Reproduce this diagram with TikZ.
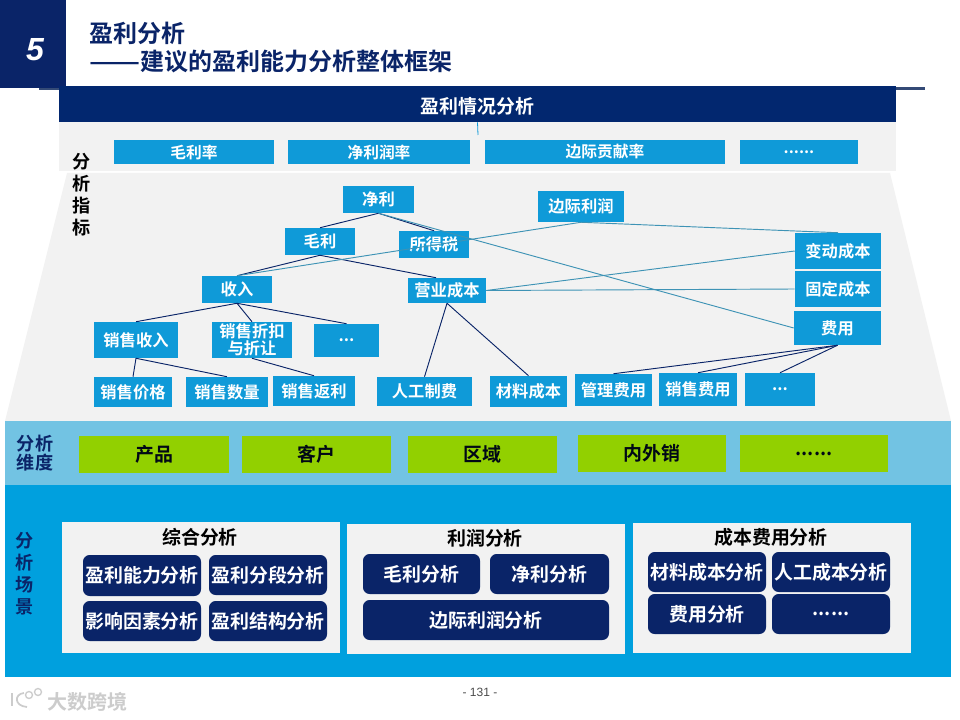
\documentclass[tikz,border=0pt]{standalone}
\usepackage{fontspec}
\setmainfont{Noto Sans CJK SC}[BoldFont={Noto Sans CJK SC Bold}]
\setsansfont{Liberation Sans}
\definecolor{navy}{HTML}{02276F}
\definecolor{dnavy}{HTML}{0A2468}
\definecolor{cyanb}{HTML}{0F9AD8}
\definecolor{band}{HTML}{72C3E3}
\definecolor{deep}{HTML}{00A0DE}
\definecolor{grn}{HTML}{92D000}
\definecolor{pale}{HTML}{F2F2F2}
\definecolor{tealln}{HTML}{3E93B5}
\tikzset{
  x=0.75pt,y=-0.75pt,
  kpi/.style={fill=cyanb,text=white,font=\fontsize{11.8}{13}\selectfont\bfseries},
  mbox/.style={fill=cyanb,text=white,font=\fontsize{12.2}{12.5}\selectfont\bfseries,align=center},
  gbox/.style={fill=grn,text=black!80!navy,font=\fontsize{14.2}{15}\selectfont\bfseries},
  scen/.style={fill=dnavy,rounded corners=5pt,text=white,font=\fontsize{14.2}{15}\selectfont\bfseries},
  panel/.style={fill=pale,draw=none},
  ptitle/.style={font=\fontsize{14.2}{15}\selectfont\bfseries,text=black,inner sep=0pt},
  side/.style={font=\fontsize{13.6}{15.5}\selectfont\bfseries,align=center,inner sep=0pt},
  dk/.style={draw=dnavy,line width=0.7pt},
  tl/.style={draw=tealln,line width=0.7pt},
  ttl/.style={anchor=west,text=dnavy,font=\fontsize{18}{20}\selectfont\bfseries,inner sep=0pt},
  logo/.style={draw=black!20,line width=1.3pt},
}
\newcommand{\pbx}[7]{%
  \pgfmathsetmacro{\mycx}{(#2+#4)/2}\pgfmathsetmacro{\mycy}{(#3+#5)/2}%
  \pgfmathsetmacro{\mywd}{(#4-#2)*0.75}\pgfmathsetmacro{\myht}{(#5-#3)*0.75}%
  \node[#6,inner sep=0pt,minimum width=\mywd pt,minimum height=\myht pt,anchor=center] (#1) at (\mycx,\mycy) {#7};}
\begin{document}
\begin{tikzpicture}
\useasboundingbox (0,0) rectangle (960,720);
\fill[white] (0,0) rectangle (960,720);
% header
\fill[navy!60!gray] (39,87) rectangle (925,90);
\fill[dnavy] (0,0) rectangle (66,88);
\node[text=white,font=\sffamily\bfseries\itshape\fontsize{24}{26}\selectfont] (num) at (35,50) {5};
\node[ttl] (t1) at (89,33) {盈利分析};
\node[ttl] (t2) at (89,62) {\scalebox{1.25}[1]{——}建议的盈利能力分析整体框架};
% backgrounds
\fill[pale] (59,122) rectangle (896,171);
\fill[pale] (67,173) -- (890,173) -- (951,421) -- (5,421) -- cycle;
\fill[band] (5,421) rectangle (951,485);
\fill[deep] (5,485) rectangle (951,677);
\pbx{bar}{59}{86}{896}{122}{fill=navy,text=white,font=\fontsize{14.2}{16}\selectfont\bfseries}{\raisebox{-7.5pt}[0pt][0pt]{盈利情况分析}}
\coordinate (tick) at (478,135);
\draw[cyanb,line width=0.6pt] (bar.south) -- (tick);
% KPI
\pbx{k1}{114}{140}{274}{164}{kpi}{毛利率}
\pbx{k2}{288}{140}{470}{164}{kpi}{净利润率}
\pbx{k3}{485}{140}{725}{164}{kpi}{边际贡献率}
\pbx{k4}{740}{140}{858}{164}{kpi}{......}
\node[side] (s1) at (82,195) {分\\[1pt]析\\[1pt]指\\[1pt]标};
% tree
\pbx{jl}{343}{186}{414}{213}{mbox}{净利}
\pbx{ml}{285}{228}{355}{255}{mbox}{毛利}
\pbx{sds}{399}{231}{469}{258}{mbox}{所得税}
\pbx{bj}{538}{191}{624}{222}{mbox}{边际利润}
\pbx{bd}{795}{233}{881}{269}{mbox}{变动成本}
\pbx{gd}{795}{271}{881}{307}{mbox}{固定成本}
\pbx{fy}{794}{311}{881}{345}{mbox}{费用}
\pbx{sr}{202}{276}{272}{303}{mbox}{收入}
\pbx{yy}{408}{278}{486}{303}{mbox}{营业成本}
\pbx{xs}{94}{322}{178}{358}{mbox}{销售收入}
\pbx{zk}{212}{322}{292}{358}{mbox}{销售折扣\\与折让}
\pbx{dd}{314}{324}{379}{357}{mbox}{...}
\pbx{jg}{94}{377}{172}{407}{mbox}{销售价格}
\pbx{sl}{186}{377}{268}{407}{mbox}{销售数量}
\pbx{fl}{273}{376}{355}{406}{mbox}{销售返利}
\pbx{rg}{377}{377}{472}{406}{mbox}{人工制费}
\pbx{cl}{490}{376}{567}{407}{mbox}{材料成本}
\pbx{gl}{575}{374}{652}{406}{mbox}{管理费用}
\pbx{xf}{659}{373}{737}{406}{mbox}{销售费用}
\pbx{de}{745}{373}{815}{406}{mbox}{...}
% connectors
\draw[dk] (jl.south) -- (ml.north);
\draw[dk] (jl.south) -- (sds.north);
\draw[tl] (jl.south) -- (fy.west);
\draw[dk] (ml.south) -- (sr.north);
\draw[dk] (ml.south) -- ([xshift=-8.25pt]yy.north);
\draw[tl] (bj.south) -- (sr.north);
\draw[tl] (bj.south) -- (bd.north);
\draw[tl] (yy.east) -- (bd.west);
\draw[tl] (yy.east) -- (gd.west);
\draw[dk] (sr.south) -- (xs.north);
\draw[dk] (sr.south) -- (zk.north);
\draw[dk] (sr.south) -- (dd.north);
\draw[dk] (xs.south) -- (jg.north);
\draw[dk] (xs.south) -- (sl.north);
\draw[dk] (zk.south) -- (fl.north);
\draw[dk] (yy.south) -- (rg.north);
\draw[dk] (yy.south) -- (cl.north);
\draw[dk] (fy.south) -- (gl.north);
\draw[dk] (fy.south) -- (xf.north);
\draw[dk] (fy.south) -- (de.north);
% dims
\node[side,text=dnavy] (s2) at (35,453) {分析\\[-1pt]维度};
\pbx{g1}{79}{436}{229}{473}{gbox}{产品}
\pbx{g2}{242}{436}{391}{473}{gbox}{客户}
\pbx{g3}{408}{436}{557}{473}{gbox}{区域}
\pbx{g4}{578}{435}{726}{472}{gbox}{内外销}
\pbx{g5}{740}{435}{888}{472}{gbox}{......}
% scenes
\node[side,text=dnavy] (s3) at (25,574) {分\\[1pt]析\\[1pt]场\\[1pt]景};
\pbx{p1}{62}{522}{340}{653}{panel}{}
\pbx{p2}{347}{524}{625}{654}{panel}{}
\pbx{p3}{633}{523}{911}{653}{panel}{}
\node[ptitle] (pt1) at (200,537) {综合分析};
\node[ptitle] (pt2) at (485,538) {利润分析};
\node[ptitle] (pt3) at (771,537) {成本费用分析};
\pbx{a1}{83}{555}{201}{596}{scen}{盈利能力分析}
\pbx{a2}{209}{555}{327}{595}{scen}{盈利分段分析}
\pbx{a3}{83}{601}{201}{641}{scen}{影响因素分析}
\pbx{a4}{209}{601}{327}{641}{scen}{盈利结构分析}
\pbx{b1}{363}{554}{480}{594}{scen}{毛利分析}
\pbx{b2}{490}{554}{609}{594}{scen}{净利分析}
\pbx{b3}{363}{600}{609}{640}{scen}{边际利润分析}
\pbx{c1}{648}{552}{766}{592}{scen}{材料成本分析}
\pbx{c2}{772}{552}{890}{592}{scen}{人工成本分析}
\pbx{c3}{648}{594}{766}{634}{scen}{费用分析}
\pbx{c4}{772}{594}{890}{634}{scen}{......}
% footer
\node[font=\sffamily\fontsize{9}{11}\selectfont,text=black!70] (pg) at (480,692) {- 131 -};
\draw[logo] (12,693) -- (12,706);
\draw[logo] (24,693) .. controls (14,694) and (14,706) .. (27,707);
\draw[logo,line width=1pt] (29,695) circle (3.5) (38,692) circle (3.5);
\node[anchor=west,text=black!20,font=\fontsize{15}{16}\selectfont\bfseries,inner sep=0pt] (wm) at (47,702) {大数跨境};
\end{tikzpicture}
\end{document}
